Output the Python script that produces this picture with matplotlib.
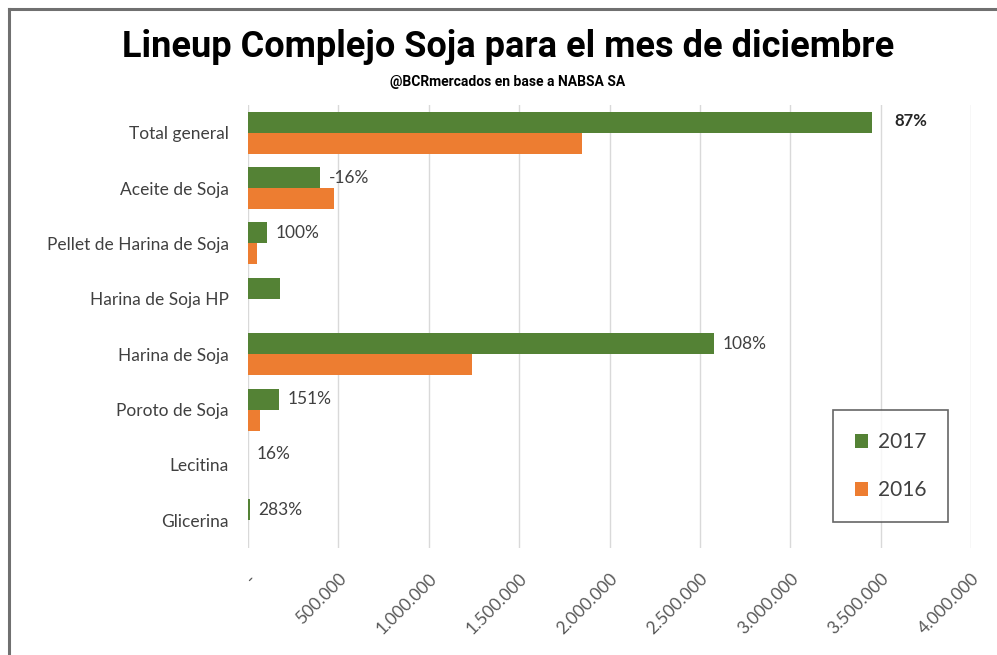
import numpy as np
import matplotlib
matplotlib.use("Agg")
import matplotlib.pyplot as plt
from matplotlib.lines import Line2D
from matplotlib.ticker import FuncFormatter

# categorias y toneladas
categorias = ["Total general", "Aceite de Soja", "Pellet de Harina de Soja",
              "Harina de Soja HP", "Harina de Soja", "Poroto de Soja",
              "Lecitina", "Glicerina"]
t2017 = [3451000, 400000, 104000, 177000, 2577000, 171000, 580, 9950]
t2016 = [1847000, 475000, 52000, 0, 1239000, 68000, 500, 2600]
variacion = ["87%", "-16%", "100%", "", "108%", "151%", "16%", "283%"]

ticks = [0, 500000, 1000000, 1500000, 2000000, 2500000, 3000000, 3500000, 4000000]

verde = "#548235"
naranja = "#ED7D31"
gris_txt = "#404040"

plt.rcParams['font.family'] = ['Lato', 'DejaVu Sans']

fig = plt.figure(figsize=(9.97, 6.55), dpi=100)
ax = fig.add_axes([248/997, 1 - 548/655, (971-248)/997, (548-105)/655])

y = np.arange(len(categorias))
h = 0.38
ax.barh(y - h/2, t2017, height=h, color=verde, label="2017", zorder=3)
ax.barh(y + h/2, t2016, height=h, color=naranja, label="2016", zorder=3)

ax.set_ylim(len(categorias) - 0.5, -0.5)
ax.set_xlim(0, 4000000)
ax.set_xticks(ticks)
ax.xaxis.set_major_formatter(FuncFormatter(
    lambda v, p: "-" if v == 0 else f"{int(v):,}".replace(",", ".")))
ax.set_yticks(y)
ax.set_yticklabels(categorias, fontsize=12.5, color=gris_txt)
ax.tick_params(axis='y', length=0, pad=14)
ax.tick_params(axis='x', length=0, pad=16, labelsize=12.5, labelcolor="#595959")
for lab in ax.get_xticklabels():
    lab.set_rotation(45)
    lab.set_ha("right")
    lab.set_rotation_mode("anchor")

ax.grid(axis='x', color="#d9d9d9", linewidth=1, zorder=0)
for s in ax.spines.values():
    s.set_visible(False)

# etiquetas de variacion
for i, txt in enumerate(variacion):
    if not txt:
        continue
    if i == 0:
        ax.annotate(txt, (t2017[i], y[i] - h/2), xytext=(16, 1), textcoords="offset points",
                    fontsize=12, fontweight="bold", color="#262626", va="center")
    else:
        ax.annotate(txt, (t2017[i], y[i] - h/2), xytext=(6, 0), textcoords="offset points",
                    fontsize=12.5, color=gris_txt, va="center")

leg = ax.legend(loc="upper left", bbox_to_anchor=((833-248)/(971-248), 1 - (410-105)/443),
                frameon=True, fancybox=False, fontsize=15, labelcolor=gris_txt,
                handlelength=0.65, handleheight=0.65, labelspacing=1.35,
                borderpad=1.05, handletextpad=0.45, borderaxespad=0)
leg.get_frame().set_edgecolor("#404040")
leg.get_frame().set_linewidth(1.2)

fig.text(508/997, 1 - 47/655, "Lineup Complejo Soja para el mes de diciembre",
         ha="center", va="center", fontsize=26, fontweight="bold",
         family=["Roboto", "DejaVu Sans"], color="black")
fig.text(508/997, 1 - 82/655, "@BCRmercados en base a NABSA SA",
         ha="center", va="center", fontsize=10, fontweight="bold",
         family=["Roboto", "DejaVu Sans"], color="black")

# marco
fig.add_artist(Line2D([9/997, 9/997], [0, 1 - 9/655], transform=fig.transFigure,
                      color="#707070", linewidth=2.2))
fig.add_artist(Line2D([9/997, 1], [1 - 9/655, 1 - 9/655], transform=fig.transFigure,
                      color="#707070", linewidth=2.2))

fig.savefig("out.png", dpi=100)
